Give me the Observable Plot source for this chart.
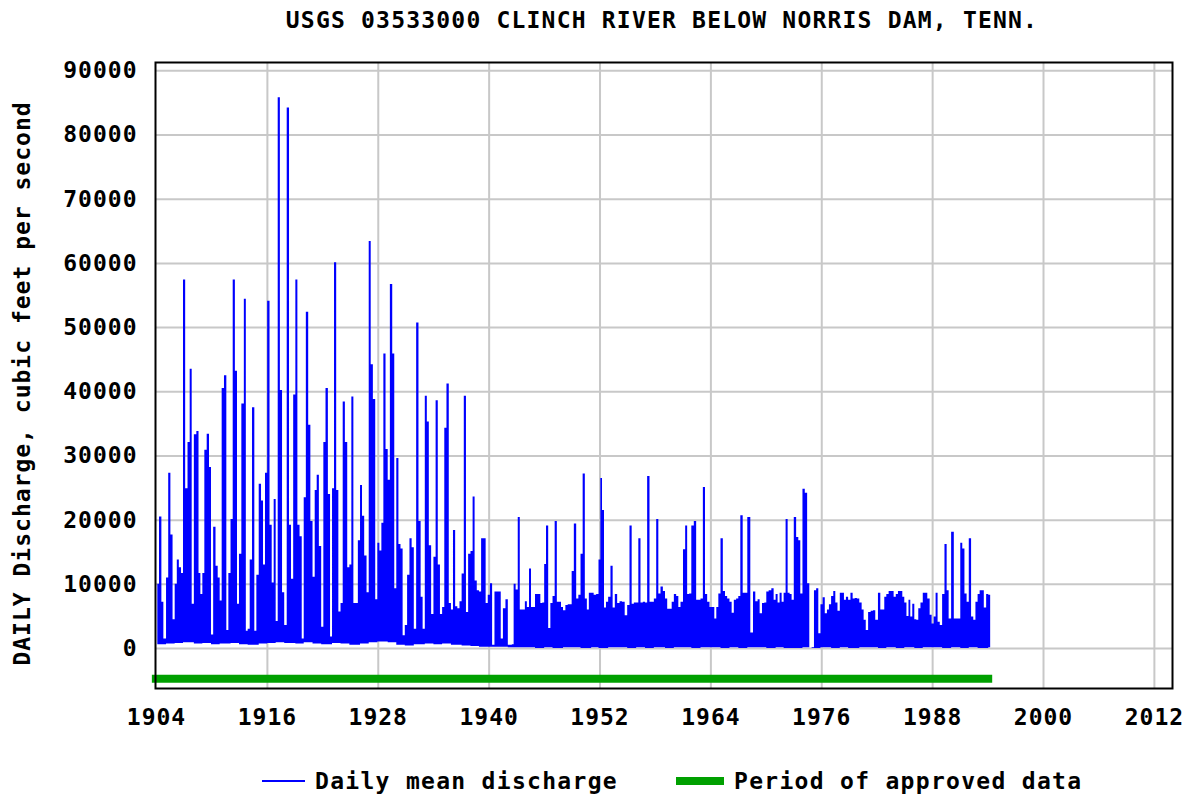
<!DOCTYPE html>
<html>
<head>
<meta charset="utf-8">
<script src="https://cdn.jsdelivr.net/npm/d3@7"></script>
<script src="https://cdn.jsdelivr.net/npm/@observablehq/plot@0.6"></script>
<style>
  html, body { margin: 0; padding: 0; background: #fff; }
  #page { position: relative; width: 1192px; height: 799px; overflow: hidden; font-family: "DejaVu Sans Mono", monospace; font-weight: bold; }
  #title { position: absolute; left: 0; top: 0; width: 1192px; height: 40px; line-height: 40px; text-align: center; font-size: 23px; letter-spacing: 1.2px; padding-left: 132px; box-sizing: border-box; }
  #chart { position: absolute; left: 0; top: 40px; }
  #chart svg text { letter-spacing: 1px; }
  #legend { position: absolute; left: 0; top: 740px; width: 1192px; height: 59px; font-size: 23px; letter-spacing: 1.3px; }
  .sw { position: absolute; }
  .lt { position: absolute; top: 27px; line-height: 28px; white-space: nowrap; }
</style>
</head>
<body>
<div id="page">
  <div id="title">USGS 03533000 CLINCH RIVER BELOW NORRIS DAM, TENN.</div>
  <div id="chart"></div>
  <div id="legend">
    <div class="sw" style="left:262px; top:40px; width:43px; height:2px; background:#0000ff;"></div>
    <div class="lt" style="left:315px;">Daily mean discharge</div>
    <div class="sw" style="left:676px; top:37px; width:48px; height:8px; background:#00a000;"></div>
    <div class="lt" style="left:734px;">Period of approved data</div>
  </div>
</div>
<script>
// ---- Data (decimal year, daily mean discharge max per column, cfs) ----
const sampleYear = [
1904.14,1904.51,1904.65,1904.94,1905.23,1905.41,1905.70,1905.88,1906.16,1906.34,1906.60,1906.81,
1907.03,1907.28,1907.54,1907.75,1907.97,1908.22,1908.51,1908.69,1908.91,1909.12,1909.34,1909.63,
1909.84,1910.06,1910.31,1910.57,1910.78,1911.00,1911.21,1911.50,1911.72,1911.94,1912.19,1912.41,
1912.66,1912.87,1913.09,1913.38,1913.63,1913.81,1914.03,1914.25,1914.53,1914.75,1914.97,1915.26,
1915.47,1915.69,1915.90,1916.16,1916.41,1916.63,1916.84,1917.06,1917.28,1917.53,1917.75,1918.00,
1918.29,1918.50,1918.72,1918.97,1919.19,1919.41,1919.66,1919.88,1920.09,1920.34,1920.60,1920.81,
1921.07,1921.28,1921.50,1921.75,1922.00,1922.22,1922.47,1922.73,1922.94,1923.16,1923.37,1923.63,
1923.84,1924.10,1924.31,1924.57,1924.82,1925.03,1925.25,1925.47,1925.72,1925.97,1926.19,1926.40,
1926.66,1926.91,1927.13,1927.34,1927.60,1927.85,1928.06,1928.28,1928.50,1928.71,1928.97,1929.18,
1929.44,1929.69,1929.88,1930.13,1930.34,1930.58,1930.80,1931.05,1931.30,1931.56,1931.77,1932.03,
1932.28,1932.53,1932.75,1932.96,1933.22,1933.40,1933.65,1933.90,1934.15,1934.37,1934.62,1934.84,
1935.09,1935.31,1935.56,1935.81,1936.03,1936.25,1936.50,1936.72,1936.97,1937.18,1937.44,1937.65,
1937.91,1938.16,1938.37,1938.59,1938.84,1939.06,1939.31,1939.57,1939.78,1940.03,1940.25,1940.50,
1940.76,1941.01,1941.22,1941.40,1941.69,1941.95,1942.20,1942.42,1942.60,1942.81,1943.03,1943.27,
1943.47,1943.65,1943.83,1944.01,1944.26,1944.48,1944.69,1944.91,1945.13,1945.34,1945.49,1945.70,
1945.92,1946.10,1946.32,1946.57,1946.79,1947.04,1947.25,1947.51,1947.72,1947.94,1948.16,1948.45,
1948.66,1948.88,1949.09,1949.35,1949.60,1949.82,1950.07,1950.28,1950.54,1950.72,1950.97,1951.22,
1951.51,1951.76,1952.02,1952.16,1952.38,1952.59,1952.81,1953.06,1953.31,1953.53,1953.78,1954.04,
1954.29,1954.58,1954.87,1955.12,1955.37,1955.59,1955.84,1956.09,1956.31,1956.56,1956.81,1957.03,
1957.28,1957.54,1957.75,1958.01,1958.26,1958.47,1958.73,1958.98,1959.20,1959.45,1959.70,1959.92,
1960.17,1960.42,1960.64,1960.89,1961.18,1961.36,1961.61,1961.79,1962.08,1962.33,1962.59,1962.80,
1963.06,1963.31,1963.52,1963.78,1964.03,1964.32,1964.53,1964.75,1964.97,1965.22,1965.47,1965.69,
1965.94,1966.19,1966.41,1966.66,1966.91,1967.13,1967.35,1967.64,1967.85,1968.14,1968.50,1968.72,
1969.00,1969.22,1969.44,1969.73,1969.94,1970.16,1970.45,1970.74,1970.95,1971.17,1971.38,1971.60,
1971.82,1972.03,1972.25,1972.47,1972.68,1972.90,1973.15,1973.41,1973.62,1973.84,1974.09,1974.34,
1974.60,1974.81,1975.10,1975.32,1975.57,1975.79,1976.04,1976.25,1976.51,1976.72,1976.94,1977.19,
1977.41,1977.63,1977.88,1978.13,1978.35,1978.56,1978.78,1979.03,1979.29,1979.50,1979.75,1979.97,
1980.26,1980.48,1980.69,1980.94,1981.20,1981.49,1981.70,1981.99,1982.28,1982.50,1982.71,1982.93,
1983.15,1983.43,1983.69,1983.97,1984.16,1984.44,1984.66,1984.88,1985.09,1985.35,1985.53,1985.74,
1985.96,1986.18,1986.39,1986.61,1986.86,1987.11,1987.33,1987.62,1987.84,1988.05,1988.27,1988.48,
1988.70,1988.95,1989.21,1989.46,1989.68,1989.89,1990.22,1990.47,1990.68,1990.94,1991.15,1991.37,
1991.62,1991.84,1992.09,1992.34,1992.56,1992.81,1993.03,1993.25,1993.46,1993.72,1993.97,1994.18,
1994.28
];
const dischargeCfs = [
10000,20500,7200,1500,11000,27300,17700,4500,10000,13800,12600,11700,
57400,24900,32100,43500,6900,33300,33800,11700,8400,11700,30900,33400,
28200,2100,18900,12800,11000,7400,40500,42500,2800,11700,20100,57400,
43200,6900,14700,38100,54400,2700,3000,13800,37500,2700,11400,25600,
23000,13000,27300,54100,19200,10200,23200,4200,85800,40200,8700,3600,
84200,19200,10800,39500,57400,19200,17400,1500,23500,52400,34800,19800,
11100,24600,27000,15900,3300,32100,40500,24000,1800,24900,60100,24600,
5700,7000,38400,32100,12600,13000,39200,7000,7000,16800,25400,20600,
14400,8700,63400,44200,38800,7600,16400,15200,19500,45900,31000,26200,
56700,45900,9300,29600,16200,15500,2000,3600,11400,17100,15700,3000,
50700,19800,8000,3000,39300,35300,16000,5300,14200,38600,13000,5300,
6400,34300,41200,7000,6000,18400,6500,6200,7300,11600,39300,5600,
14700,15100,23600,10500,9000,8800,17100,17100,7000,8300,10100,500,
8800,8800,8800,1500,6200,7600,500,500,600,10000,9100,20400,
6000,6000,6000,7300,6400,12400,6400,6400,8400,8400,8400,7000,
7100,13100,19100,3100,7000,8100,19800,7200,7200,6400,5900,6700,
6800,6800,12000,19400,7700,8300,14700,27200,7700,6000,8600,8600,
8300,8400,13800,26500,21500,6300,7200,8000,12800,6300,8400,7000,
7300,7200,5100,6700,19100,6900,7100,7100,17100,7100,7200,7100,
26800,7200,7200,7700,20100,8500,9600,8900,7700,6100,6100,7200,
8400,8100,6400,7200,15400,19100,8400,8500,19100,19800,7500,7500,
7700,25100,8400,7200,6400,6400,4600,6400,8500,17100,8900,8100,
7700,7200,5500,7500,7700,8100,20700,8600,8600,20400,2400,8800,
7300,7600,5400,7000,7100,8800,9000,9300,7500,8400,7100,8600,
7200,8600,20100,8600,8400,7500,20400,17300,16800,8500,24800,24200,
10100,100,100,9000,9300,2300,6800,7900,5400,6000,6800,8100,
8900,7100,5800,8600,8600,7500,8000,7500,8600,7700,7800,7700,
7100,6000,4400,2800,5600,5800,5900,4400,8600,6000,6000,8000,
8400,8900,8900,8000,8400,8900,8900,8000,7100,5000,7500,4900,
6900,4500,4400,6200,7100,8600,8600,7700,5200,3800,4900,8600,
4100,3600,8400,16200,9000,4600,18100,4600,4600,4600,16400,15500,
8500,7200,17100,4900,4400,7200,8400,9000,9000,6300,8400,8300,
8300
];
// Approximate lower edge of the daily band, by calendar year
const lowYear = d3.range(1904, 1995);
const lowCfs = [
600,700,800,900,700,800,600,700,800,600,500,700,800,900,800,700,900,700,600,800,
700,500,700,900,1000,900,500,400,600,700,600,700,500,400,300,200,200,200,100,100,
100,0,100,0,100,100,0,100,0,100,100,0,100,0,100,0,100,100,0,100,
100,0,100,0,100,100,0,100,0,0,100,0,100,0,100,0,100,100,0,100,
0,100,0,100,100,0,100,0,100,0,100
];
const approvedStart = 1903.55, approvedEnd = 1994.5;
const xTicks = [1904, 1916, 1928, 1940, 1952, 1964, 1976, 1988, 2000, 2012];
const yTicks = [0, 10000, 20000, 30000, 40000, 50000, 60000, 70000, 80000, 90000];
const yAxisLabel = "DAILY Discharge, cubic feet per second";

const lowByYear = new Map(lowYear.map((y, i) => [y, lowCfs[i]]));
const series = sampleYear.map((t, i) => ({
  t, hi: dischargeCfs[i], lo: Math.min(dischargeCfs[i], lowByYear.get(Math.floor(t)) ?? 0)
}));

const font = {fontFamily: "DejaVu Sans Mono", fontSize: 23, fontWeight: "bold"};
const chart = Plot.plot({
  width: 1192, height: 700,
  marginTop: 22, marginLeft: 155, marginRight: 20, marginBottom: 52,
  style: {fontFamily: "DejaVu Sans Mono", fontSize: "23px", fontWeight: "bold", color: "#000", background: "#fff"},
  x: {domain: [1903.89, 2013.96]},
  y: {domain: [-6230, 91300]},
  marks: [
    Plot.gridX(xTicks.slice(1), {stroke: "#c8c8c8", strokeOpacity: 1, strokeWidth: 2}),
    Plot.gridY(yTicks, {stroke: "#c8c8c8", strokeOpacity: 1, strokeWidth: 2}),
    Plot.areaY(series, {x: "t", y1: "lo", y2: "hi", curve: "step", fill: "#0000ff"}),
    Plot.ruleY([{y: -4700, x1: approvedStart, x2: approvedEnd}], {y: "y", x1: "x1", x2: "x2", stroke: "#00a000", strokeWidth: 8}),
    Plot.frame({stroke: "#000", strokeWidth: 2}),
    Plot.axisX(xTicks, {tickSize: 0, tickPadding: 20, tickFormat: d => String(d), label: null, ...font}),
    Plot.axisY(yTicks, {tickSize: 0, tickPadding: 18, tickFormat: d => String(d), label: null, ...font}),
    Plot.text([yAxisLabel], {text: d => d, frameAnchor: "left", textAnchor: "middle", rotate: -90, dx: -133, dy: 8, ...font})
  ]
});
document.getElementById("chart").appendChild(chart);
</script>
</body>
</html>
